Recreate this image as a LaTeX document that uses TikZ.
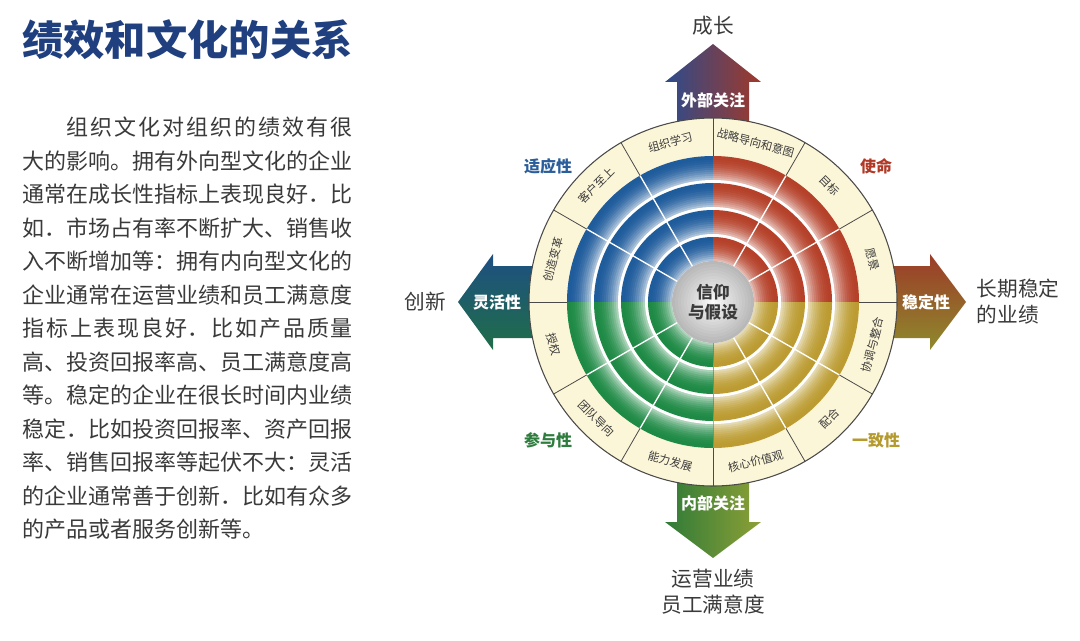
\documentclass[tikz,border=0pt]{standalone}
\usepackage{fontspec}
\setmainfont{Noto Sans CJK SC}
\usepackage{xcolor}
\usepackage{tikz}
\usetikzlibrary{positioning,calc}
\XeTeXlinebreaklocale "zh"
\XeTeXlinebreakskip=0pt plus 4pt
\definecolor{titlecolor}{HTML}{1F3F7F}
\definecolor{ink}{HTML}{3A3A3A}
\definecolor{creamcolor}{HTML}{FCF6D8}
\definecolor{rimcolor}{HTML}{4A4A4A}
\definecolor{adaptcolor}{HTML}{1F5C9C}
\definecolor{missioncolor}{HTML}{B5412A}
\definecolor{involvecolor}{HTML}{1E8A45}
\definecolor{consistcolor}{HTML}{BC9C32}
\definecolor{adaptlabel}{HTML}{2A5D9A}
\definecolor{missionlabel}{HTML}{B03A26}
\definecolor{involvelabel}{HTML}{2E7D3E}
\definecolor{consistlabel}{HTML}{B59A2E}
\definecolor{outwardleft}{HTML}{2D4B8C}
\definecolor{outwardright}{HTML}{A0392A}
\definecolor{stableup}{HTML}{9C3B28}
\definecolor{stabledown}{HTML}{8E8A2C}
\definecolor{flexup}{HTML}{1E4F82}
\definecolor{flexdown}{HTML}{1F6E48}
\definecolor{inwardleft}{HTML}{2F7A38}
\definecolor{inwardright}{HTML}{8DA036}
\tikzset{
  ringlabel/.style={font=\fontsize{8.5}{10}\selectfont, text=ink, inner sep=0pt},
  quadlabel/.style={font=\bfseries\fontsize{12}{14}\selectfont, inner sep=0pt},
  arrowlabel/.style={font=\bfseries\fontsize{12}{14}\selectfont, text=white, inner sep=0pt},
  sidelabel/.style={font=\fontsize{15.5}{19.5}\selectfont, text=ink, inner sep=0pt},
  spokeline/.style={draw=rimcolor, line width=0.6pt},
  gapline/.style={draw=white, line width=1pt}
}

\begin{document}
\begin{tikzpicture}[x=0.75pt,y=0.75pt]
  \useasboundingbox (0,0) rectangle (1080,640);
  % title and text
  \node[anchor=west, inner sep=0pt, text=titlecolor, font=\bfseries\fontsize{31}{36}\selectfont] (title) at (22,600) {绩效和文化的关系};
  \node[anchor=north west, inner sep=0pt, text width=248pt, align=justify, text=ink, font=\fontsize{16.5}{25.1}\selectfont] (body) at (22,523) {%
\hspace*{2em}组织文化对组织的绩效有很\linebreak
大的影响。拥有外向型文化的企业\linebreak
通常在成长性指标上表现良好．比\linebreak
如．市场占有率不断扩大、销售收\linebreak
入不断增加等：拥有内向型文化的\linebreak
企业通常在运营业绩和员工满意度\linebreak
指标上表现良好．比如产品质量\linebreak
高、投资回报率高、员工满意度高\linebreak
等。稳定的企业在很长时间内业绩\linebreak
稳定．比如投资回报率、资产回报\linebreak
率、销售回报率等起伏不大：灵活\linebreak
的企业通常善于创新．比如有众多\linebreak
的产品或者服务创新等。};

  % wheel
  \begin{scope}[shift={(713,338)}]
    \coordinate (hub) at (0,0);
    % arrows
    \shade[left color=outwardleft, right color=outwardright] (-36,150) -- (-36,220) -- (-48,220) -- (0,258) -- (48,220) -- (36,220) -- (36,150) -- cycle;
    \shade[top color=stableup, bottom color=stabledown] (150,36) -- (217,36) -- (217,48) -- (253,0) -- (217,-48) -- (217,-36) -- (150,-36) -- cycle;
    \shade[top color=flexup, bottom color=flexdown] (-150,36) -- (-220,36) -- (-220,48) -- (-255,0) -- (-220,-48) -- (-220,-36) -- (-150,-36) -- cycle;
    \shade[left color=inwardleft, right color=inwardright] (-36,-150) -- (-36,-220) -- (-48,-220) -- (0,-256) -- (48,-220) -- (36,-220) -- (36,-150) -- cycle;

    % cream ring
    \fill[creamcolor] (hub) circle[radius=184];
    % shaded bands
    \foreach \qa/\qc in {90/adaptcolor, 0/missioncolor, 270/consistcolor, 180/involvecolor} {
      \foreach \ro in {146,119,92,65} {
        \foreach \s in {0,...,11} {
          \pgfmathsetmacro\rr{\ro-2*\s}
          \pgfmathtruncatemacro\mix{100-int(62*(\s/11)^2)}
          \fill[\qc!\mix!white] (hub) -- (\qa:\rr) arc[start angle=\qa, delta angle=90, radius=\rr] -- cycle;
        }
        \pgfmathsetmacro\rg{\ro-24}
        \fill[white] (hub) -- (\qa:\rg) arc[start angle=\qa, delta angle=90, radius=\rg] -- cycle;
      }
    }
    % spokes
    \foreach \a in {30,60,120,150,210,240,300,330}
      \draw[gapline] (\a:41) -- (\a:146);
    \foreach \a in {0,30,...,330}
      \draw[spokeline] (\a:146) -- (\a:184);
    \draw[rimcolor, line width=0.8pt] (hub) circle[radius=184];
    % hub
    \foreach \s in {0,...,13} {
      \pgfmathsetmacro\hr{41-3*\s}
      \pgfmathtruncatemacro\gr{28-2*\s}
      \fill[black!\gr] (hub) circle[radius=\hr];
    }
    \node[font=\bfseries\fontsize{12.5}{15}\selectfont, text=ink, align=center, inner sep=0pt] (belief) at (hub) {信仰\\与假设};

    % ring labels
    \foreach \a/\txt [count=\i] in {105/组织学习, 135/客户至上, 165/创造变革, 75/战略导向和意图, 45/目标, 15/愿景}
      \node[ringlabel, rotate=\a-90] (up\i) at (\a:165) {\txt};
    \foreach \a/\txt [count=\i] in {195/授权, 225/团队导向, 255/能力发展, 285/核心价值观, 315/配合, 345/协调与整合}
      \node[ringlabel, rotate=\a+90] (low\i) at (\a:165) {\txt};

    % quadrant labels
    \node[quadlabel, text=adaptlabel] (adapt) at (-165,136) {适应性};
    \node[quadlabel, text=missionlabel] (mission) at (163,136) {使命};
    \node[quadlabel, text=involvelabel] (involve) at (-165,-138) {参与性};
    \node[quadlabel, text=consistlabel] (consist) at (163,-138) {一致性};

    % arrow labels
    \node[arrowlabel] (outward) at (0,202) {外部关注};
    \node[arrowlabel] (stability) at (213,0) {稳定性};
    \node[arrowlabel] (flexibility) at (-216,0) {灵活性};
    \node[arrowlabel] (inward) at (0,-201) {内部关注};

    % outer labels
    \coordinate (uptip) at (0,258);
    \coordinate (righttip) at (253,0);
    \coordinate (lefttip) at (-255,0);
    \coordinate (downtip) at (0,-256);
    \node[sidelabel, above=6pt of uptip] (growth) {成长};
    \node[sidelabel, align=left, right=8pt of righttip] (longterm) {长期稳定\\的业绩};
    \node[sidelabel, left=9pt of lefttip] (innovation) {创新};
    \node[sidelabel, align=center, below=8pt of downtip] (operation) {运营业绩\\员工满意度};
  \end{scope}
\end{tikzpicture}
\end{document}
